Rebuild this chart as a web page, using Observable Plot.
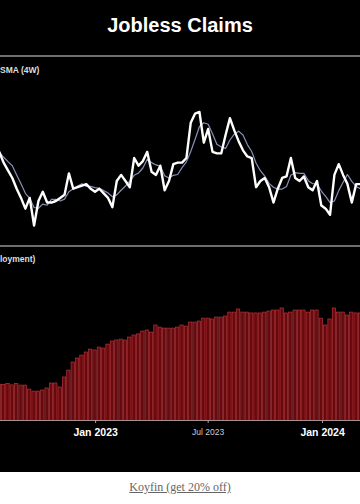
<!DOCTYPE html>
<html>
<head>
<meta charset="utf-8">
<script src="https://cdn.jsdelivr.net/npm/d3@7"></script>
<script src="https://cdn.jsdelivr.net/npm/@observablehq/plot@0.6"></script>
<style>
  html, body { margin: 0; padding: 0; background: #fff; }
  #wrap { position: relative; width: 360px; height: 504px; overflow: hidden; font-family: "Liberation Sans", Arial, sans-serif; }
  #black { position: absolute; left: 0; top: 0; width: 360px; height: 472px; background: #000; }
  #title { position: absolute; left: 0; top: 15px; width: 360px; text-align: center; color: #fff; font-size: 20px; font-weight: bold; line-height: 1; }
  .rule { position: absolute; left: 0; width: 360px; height: 2px; background: #6e6e6e; }
  .plabel { position: absolute; left: 0; color: #ddd; font-size: 8.5px; font-weight: bold; line-height: 1; white-space: nowrap; }
  .panel { position: absolute; left: 0; }
  #link { position: absolute; left: 0; top: 481px; width: 360px; text-align: center; font-family: "Liberation Serif", "DejaVu Serif", serif; font-size: 12px; line-height: 1; }
  #link a { color: #666; text-decoration: underline; }
</style>
</head>
<body>
<div id="wrap">
  <div id="black"></div>
  <div id="title">Jobless Claims</div>
  <div class="rule" style="top:55px"></div>
  <div class="plabel" style="top:65.5px">SMA (4W)</div>
  <div class="panel" id="p1" style="top:57px"></div>
  <div class="rule" style="top:245px"></div>
  <div class="plabel" style="top:255px">loyment)</div>
  <div class="panel" id="p2" style="top:247px"></div>
  <div id="link"><a href="#">Koyfin (get 20% off)</a></div>
</div>
<script>
// Weekly dates (week ending Saturday), Jul 30 2022 .. Mar 2 2024
const firstWeek = new Date(Date.UTC(2022, 6, 30));
const lastWeek = new Date(Date.UTC(2024, 2, 2));
const weeks = d3.utcSaturday.range(firstWeek, d3.utcDay.offset(lastWeek, 1));

// Initial jobless claims (thousands), weekly
const initialClaims = [238,231,226,221,214,208,201,208,190,206,
  212,205,205,206,208,210,224,214,215,216,
  217,214,212,214,211,208,202,219,223,219,
  215,234,229,232,238,225,223,229,213,219,
  230,231,231,234,257,263,264,244,253,238,
  237,237,249,260,252,245,239,235,234,215,
  219,221,215,205,214,221,222,234,221,219,
  222,215,213,219,203,201,197,223,230,223,
  217,205,217,217];

// Continuing claims (thousands), weekly
const continuingClaims = [1430,1428,1434,1425,1432,1424,1424,1401,1389,1389,
  1395,1407,1436,1436,1413,1471,1511,1558,1581,1598,
  1616,1633,1628,1645,1639,1662,1680,1686,1691,1686,
  1703,1715,1721,1738,1744,1732,1773,1761,1755,1755,
  1755,1761,1773,1767,1790,1790,1796,1813,1813,1808,
  1819,1819,1825,1848,1848,1866,1848,1848,1843,1843,
  1843,1848,1854,1860,1860,1872,1843,1848,1860,1860,
  1860,1848,1860,1860,1813,1773,1808,1872,1848,1848,
  1831,1848,1843,1843];

// Tick labels
const majorTicks = [new Date(Date.UTC(2023,0,1)), new Date(Date.UTC(2024,0,1))];
const minorTicks = [new Date(Date.UTC(2023,6,1))];

const xDomain = [new Date(Date.UTC(2022,7,1)), new Date(Date.UTC(2024,2,2))];

const lineData = weeks.map((d, i) => ({date: d, v: initialClaims[i]}));
const barData = weeks.map((d, i) => ({date: d, v: continuingClaims[i]}));

const baseStyle = {background: "transparent", color: "#fff", fontFamily: "'Liberation Sans', Arial, sans-serif"};

const p1 = Plot.plot({
  width: 360, height: 188, margin: 0,
  style: baseStyle,
  x: {type: "utc", domain: xDomain, axis: null},
  y: {domain: [177, 299.5], axis: null},
  marks: [
    Plot.lineY(lineData, Plot.windowY({k: 4, anchor: "end"}, {x: "date", y: "v", stroke: "#8790b8", strokeWidth: 1.2, clip: true})),
    Plot.lineY(lineData, {x: "date", y: "v", stroke: "#fff", strokeWidth: 2.4, strokeLinejoin: "round", clip: true})
  ]
});
document.getElementById("p1").appendChild(p1);

const p2 = Plot.plot({
  width: 360, height: 225, marginTop: 0, marginBottom: 52, marginLeft: 0, marginRight: 0,
  style: baseStyle,
  x: {type: "utc", domain: xDomain, axis: null},
  y: {domain: [1221, 2226], axis: null},
  marks: [
    Plot.rectY(barData, {
      x1: d => d3.utcHour.offset(d.date, -84),
      x2: d => d3.utcHour.offset(d.date, 84),
      y: "v", fill: "#680a0d", stroke: "#c23a42", strokeWidth: 0.6,
      insetLeft: 0.5, insetRight: 0.5, clip: true
    }),
    Plot.frame({anchor: "bottom", stroke: "#a89090"}),
    Plot.axisX(majorTicks, {tickSize: 3, tickPadding: 5, tickFormat: d3.utcFormat("%b %Y"),
      fontSize: 10.5, fontWeight: "bold", fill: "#fff", stroke: "#aaa"}),
    Plot.axisX(minorTicks, {tickSize: 3, tickPadding: 5, tickFormat: d3.utcFormat("%b %Y"),
      fontSize: 8.5, fill: "#ccc", stroke: "#aaa"})
  ]
});
document.getElementById("p2").appendChild(p2);
</script>
</body>
</html>
